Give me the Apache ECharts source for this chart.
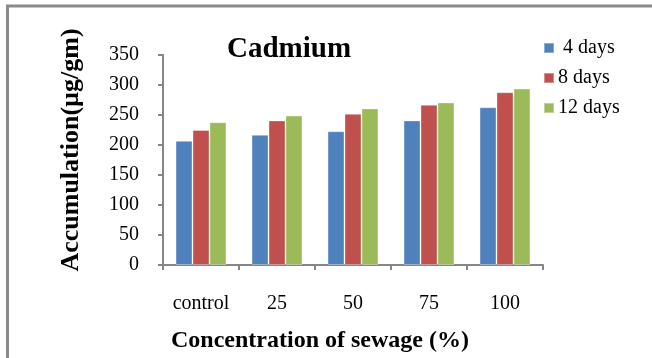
<!DOCTYPE html>
<html>
<head>
<meta charset="utf-8">
<script src="https://cdn.jsdelivr.net/npm/echarts@6/dist/echarts.min.js"></script>
<style>
  html, body { margin: 0; padding: 0; background: #fff; }
  #chart { width: 652px; height: 358px; }
</style>
</head>
<body>
<div id="chart"></div>
<script>
// Cadmium accumulation by sewage concentration and exposure time
const categories = ['control', '25', '50', '75', '100'];
const seriesNames = [' 4 days', '8 days', '12 days'];
const days4 = [207, 217, 223, 241, 263];
const days8 = [225, 241, 252, 267, 288];
const days12 = [238, 249, 261, 271, 294];
const yTicks = [0, 50, 100, 150, 200, 250, 300, 350];

const serif = "'Times New Roman', 'Liberation Serif', serif";
const colors = ['#4F81BD', '#C0504D', '#9BBB59'];
const values = [days4, days8, days12];

const chart = echarts.init(document.getElementById('chart'), null, { renderer: 'canvas' });

chart.setOption({
  animation: false,
  backgroundColor: '#ffffff',
  color: colors,
  graphic: [{
    type: 'rect',
    shape: { x: 7.5, y: 6, width: 720, height: 420 },
    style: { fill: 'none', stroke: '#8a8a8a', lineWidth: 3 },
    silent: true
  }],
  title: {
    text: 'Cadmium',
    left: 227,
    top: 35,
    padding: 0,
    textStyle: { fontFamily: serif, fontSize: 29, fontWeight: 'bold', color: '#000' }
  },
  legend: {
    orient: 'vertical',
    left: 543,
    top: 38,
    padding: 0,
    itemWidth: 10,
    itemHeight: 10,
    itemGap: 10,
    icon: 'rect',
    textStyle: { fontFamily: serif, fontSize: 20, color: '#000', padding: [0, 0, 0, -1] },
    data: seriesNames
  },
  grid: { left: 163, right: 109, top: 55, bottom: 88, containLabel: false },
  xAxis: {
    type: 'category',
    data: categories,
    name: 'Concentration of sewage (%)',
    nameLocation: 'middle',
    nameGap: 64,
    nameTextStyle: {
      fontFamily: serif, fontSize: 24, fontWeight: 'bold', color: '#000',
      padding: [0, 66, 0, 0]
    },
    axisLine: { lineStyle: { color: '#868686', width: 2 } },
    axisTick: { show: true, length: 5, lineStyle: { color: '#868686', width: 2 } },
    axisLabel: { fontFamily: serif, fontSize: 20, color: '#000', margin: 29 },
    splitLine: { show: false }
  },
  yAxis: {
    type: 'value',
    min: 0,
    max: 350,
    interval: 50,
    name: 'Accumulation(µg/gm)',
    nameLocation: 'middle',
    nameGap: 79,
    nameRotate: 90,
    nameTextStyle: {
      fontFamily: serif, fontSize: 26, fontWeight: 'bold', color: '#000',
      padding: [0, 0, 0, 20]
    },
    axisLine: { show: true, lineStyle: { color: '#868686', width: 2 } },
    axisTick: { show: true, length: 5, lineStyle: { color: '#868686', width: 2 } },
    axisLabel: {
      fontFamily: serif, fontSize: 20, color: '#000', margin: 24,
      formatter: v => (yTicks.indexOf(v) >= 0 ? String(v) : '')
    },
    splitLine: { show: false }
  },
  series: seriesNames.map((name, i) => ({
    name: name,
    type: 'bar',
    data: values[i],
    barGap: '0%',
    barCategoryGap: '33%',
    itemStyle: { color: colors[i], borderColor: 'rgba(255,255,255,0.35)', borderWidth: 1 }
  }))
});
</script>
</body>
</html>
